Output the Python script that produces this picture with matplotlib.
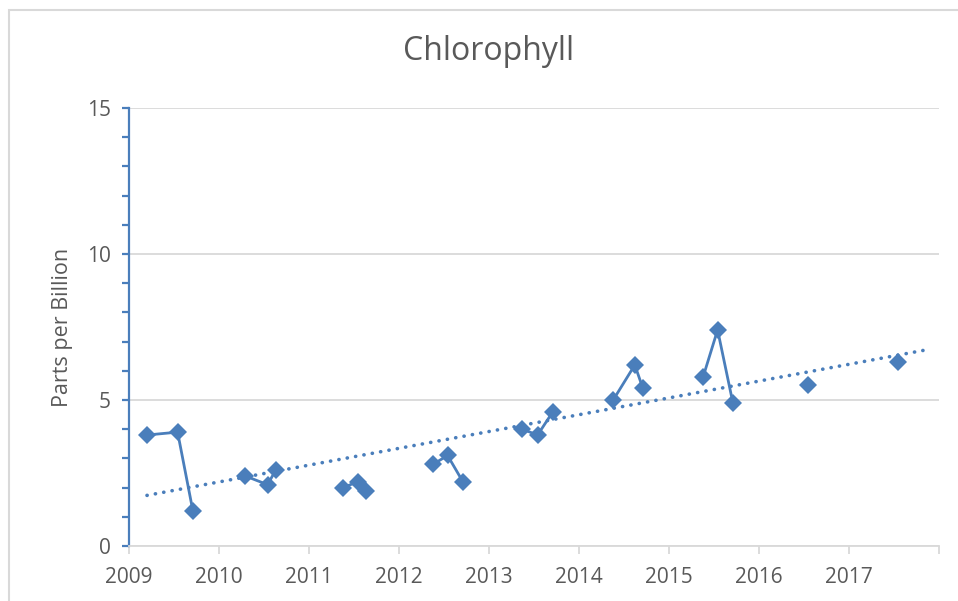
import matplotlib
matplotlib.use("Agg")
import matplotlib.pyplot as plt
from matplotlib.patches import Rectangle
from matplotlib.ticker import MultipleLocator
import numpy as np

plt.rcParams['font.family'] = ['Open Sans', 'DejaVu Sans']

# Sample dates (decimal years) and chlorophyll values (ppb), grouped by season
season_2009 = ([2009.20, 2009.54, 2009.71], [3.8, 3.9, 1.2])
season_2010 = ([2010.29, 2010.54, 2010.63], [2.4, 2.1, 2.6])
season_2011 = ([2011.38, 2011.54, 2011.63], [2.0, 2.2, 1.9])
season_2012 = ([2012.38, 2012.54, 2012.71], [2.8, 3.1, 2.2])
season_2013 = ([2013.37, 2013.54, 2013.71], [4.0, 3.8, 4.6])
season_2014 = ([2014.38, 2014.62, 2014.71], [5.0, 6.2, 5.4])
season_2015 = ([2015.38, 2015.54, 2015.71], [5.8, 7.4, 4.9])
season_2016 = ([2016.54], [5.5])
season_2017 = ([2017.54], [6.3])
seasons = [season_2009, season_2010, season_2011, season_2012, season_2013,
           season_2014, season_2015, season_2016, season_2017]

x_ticks = [2009, 2010, 2011, 2012, 2013, 2014, 2015, 2016, 2017, 2018]
x_labels = ["2009", "2010", "2011", "2012", "2013", "2014", "2015", "2016", "2017", ""]
y_ticks = [0, 5, 10, 15]

blue = "#4A7EBB"
text_gray = "#595959"
grid_gray = "#D9D9D9"

fig = plt.figure(figsize=(9.58, 6.01), dpi=100)
fig.patches.append(Rectangle((8.5 / 958, -0.1), 1.2, 1 - 9.5 / 601 + 0.1,
                             transform=fig.transFigure, fill=False,
                             edgecolor="#D9D9D9", linewidth=1.5))
ax = fig.add_axes([129 / 958, 1 - 546 / 601, (939 - 129) / 958, (546 - 108) / 601])

for xs, ys in seasons:
    ax.plot(xs, ys, color=blue, linewidth=2.0, marker="D", markersize=9.3,
            markeredgewidth=0, zorder=3)

# Linear trendline
all_x = np.concatenate([np.array(s[0]) for s in seasons])
all_y = np.concatenate([np.array(s[1]) for s in seasons])
slope, intercept = np.polyfit(all_x, all_y, 1)
forecast = 0.36
tx = np.array([all_x.min(), all_x.max() + forecast])
ax.plot(tx, slope * tx + intercept, color=blue, linewidth=2.6,
        linestyle=(0, (0.05, 2.3)), dash_capstyle="round", zorder=2)

ax.set_xlim(2009, 2018)
ax.set_ylim(0, 15)
ax.set_xticks(x_ticks)
ax.set_xticklabels(x_labels)
ax.set_yticks(y_ticks)
ax.yaxis.set_minor_locator(MultipleLocator(1))

ax.grid(axis="y", color=grid_gray, linewidth=1.3, zorder=0)
ax.set_axisbelow(True)

for side in ["top", "right"]:
    ax.spines[side].set_visible(False)
ax.spines["left"].set_color(blue)
ax.spines["left"].set_linewidth(1.6)
ax.spines["bottom"].set_color(grid_gray)
ax.spines["bottom"].set_linewidth(1.3)

ax.tick_params(axis="y", which="both", direction="out", color=blue, width=1.6,
               labelcolor=text_gray, labelsize=15, pad=8)
ax.tick_params(axis="y", which="major", length=5)
ax.tick_params(axis="y", which="minor", length=5)
ax.tick_params(axis="x", direction="out", color=grid_gray, width=1.3, length=6,
               labelcolor=text_gray, labelsize=15, pad=9)

ax.set_ylabel("Parts per Billion", color=text_gray, fontsize=15.5, labelpad=10)
fig.text(489 / 958, 1 - 52 / 601, "Chlorophyll", ha="center", va="center",
         color=text_gray, fontsize=23)

fig.savefig("out.png", dpi=100)
